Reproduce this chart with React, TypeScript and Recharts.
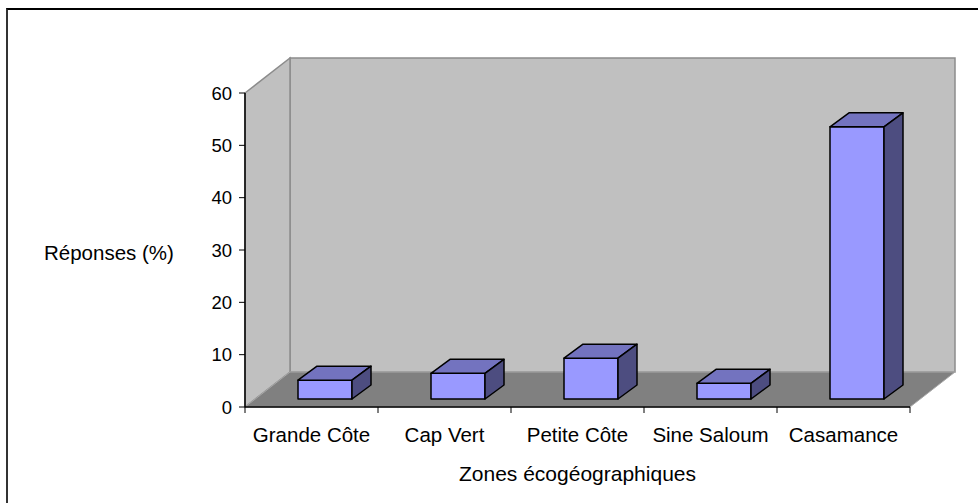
import React from 'react';
import { BarChart, Bar, XAxis, YAxis } from 'recharts';

const categories = ['Grande Côte', 'Cap Vert', 'Petite Côte', 'Sine Saloum', 'Casamance'];
const responses = [3.6, 4.9, 7.8, 3.0, 52.0];
const yTicks = [0, 10, 20, 30, 40, 50, 60];

const data = categories.map((zone, i) => ({ zone, value: responses[i] }));

const WIDTH = 978;
const HEIGHT = 503;
const MARGIN = { top: 93, right: 68, bottom: 16, left: 40 };
const Y_AXIS_W = 205;
const X_AXIS_H = 80;
const PLOT_LEFT = MARGIN.left + Y_AXIS_W;
const PLOT_RIGHT = WIDTH - MARGIN.right;
const BAND = (PLOT_RIGHT - PLOT_LEFT) / categories.length;

// oblique 3D offsets (walls, bar position in depth, bar depth)
const WALL_DX = 45;
const WALL_DY = -35;
const BAR_OX = 13;
const BAR_OY = -8;
const BAR_DX = 19;
const BAR_DY = -14;

const FONT = '"Liberation Sans", Arial, sans-serif';

const pts = (list: number[][]) => list.map((p) => p.join(',')).join(' ');

// back wall, side wall and floor, drawn once behind the bars
function Walls(props: any) {
  if (props.index !== 0) return <g />;
  const top = props.y;
  const bottom = props.y + props.height;
  const l = PLOT_LEFT;
  const r = PLOT_RIGHT;
  return (
    <g>
      <polygon
        points={pts([[l + WALL_DX, top + WALL_DY], [r + WALL_DX, top + WALL_DY], [r + WALL_DX, bottom + WALL_DY], [l + WALL_DX, bottom + WALL_DY]])}
        fill="#c0c0c0"
        stroke="#8c8c8c"
        strokeWidth={1.5}
      />
      <polygon
        points={pts([[l, top], [l + WALL_DX, top + WALL_DY], [l + WALL_DX, bottom + WALL_DY], [l, bottom]])}
        fill="#c0c0c0"
        stroke="#8c8c8c"
        strokeWidth={1.5}
      />
      <polygon
        points={pts([[l, bottom], [l + WALL_DX, bottom + WALL_DY], [r + WALL_DX, bottom + WALL_DY], [r, bottom]])}
        fill="#808080"
        stroke="#a8a8a8"
        strokeWidth={1}
      />
    </g>
  );
}

function Box3D(props: any) {
  const { x, y, width, height } = props;
  if (width == null || height == null) return <g />;
  const fx = x + BAR_OX;
  const fy = y + BAR_OY;
  return (
    <g stroke="#000" strokeWidth={1.5} strokeLinejoin="round">
      <rect x={fx} y={fy} width={width} height={height} fill="#9999ff" />
      <polygon
        points={pts([[fx, fy], [fx + BAR_DX, fy + BAR_DY], [fx + width + BAR_DX, fy + BAR_DY], [fx + width, fy]])}
        fill="#7373bf"
      />
      <polygon
        points={pts([[fx + width, fy], [fx + width + BAR_DX, fy + BAR_DY], [fx + width + BAR_DX, fy + height + BAR_DY], [fx + width, fy + height]])}
        fill="#4d4d80"
      />
    </g>
  );
}

// category ticks sit on the band edges, labels in the middle
function ZoneTick(props: any) {
  const { x, y, payload, index } = props;
  const last = index === categories.length - 1;
  return (
    <g>
      <line x1={x - BAND / 2} y1={y} x2={x - BAND / 2} y2={y + 6} stroke="#000" />
      {last && <line x1={x + BAND / 2} y1={y} x2={x + BAND / 2} y2={y + 6} stroke="#000" />}
      <text x={x} y={y + 35} textAnchor="middle" fontSize={20.5} fontFamily={FONT} fill="#000">
        {payload.value}
      </text>
    </g>
  );
}

export default function App() {
  return (
    <div style={{ position: 'absolute', left: 0, top: 0, width: WIDTH, height: HEIGHT, background: '#fff', overflow: 'hidden' }}>
      <div
        style={{
          position: 'absolute',
          left: 6,
          top: 8,
          width: WIDTH,
          height: HEIGHT,
          borderTop: '2px solid #000',
          borderLeft: '2px solid #333',
        }}
      />
      <div style={{ position: 'absolute', left: 0, top: 0 }}>
        <BarChart width={WIDTH} height={HEIGHT} data={data} margin={MARGIN} barSize={54}>
          <Bar dataKey="value" isAnimationActive={false} shape={Box3D} background={Walls} />
          <XAxis
            dataKey="zone"
            height={X_AXIS_H}
            interval={0}
            tickLine={false}
            tickSize={0}
            tickMargin={0}
            tick={ZoneTick}
            axisLine={{ stroke: '#000', strokeWidth: 1.5 }}
            label={{ value: 'Zones écogéographiques', position: 'insideBottom', offset: 6, fontSize: 21, fontFamily: FONT, fill: '#000' }}
          />
          <YAxis
            width={Y_AXIS_W}
            domain={[0, 60]}
            ticks={yTicks}
            interval={0}
            tickSize={6}
            tickMargin={7}
            tick={{ fontSize: 18.5, fontFamily: FONT, fill: '#000' }}
            tickLine={{ stroke: '#000' }}
            axisLine={{ stroke: '#000', strokeWidth: 1.5 }}
            label={{ value: 'Réponses (%)', position: 'insideLeft', offset: 4, dy: 3, fontSize: 20.5, fontFamily: FONT, fill: '#000' }}
          />
        </BarChart>
      </div>
    </div>
  );
}
